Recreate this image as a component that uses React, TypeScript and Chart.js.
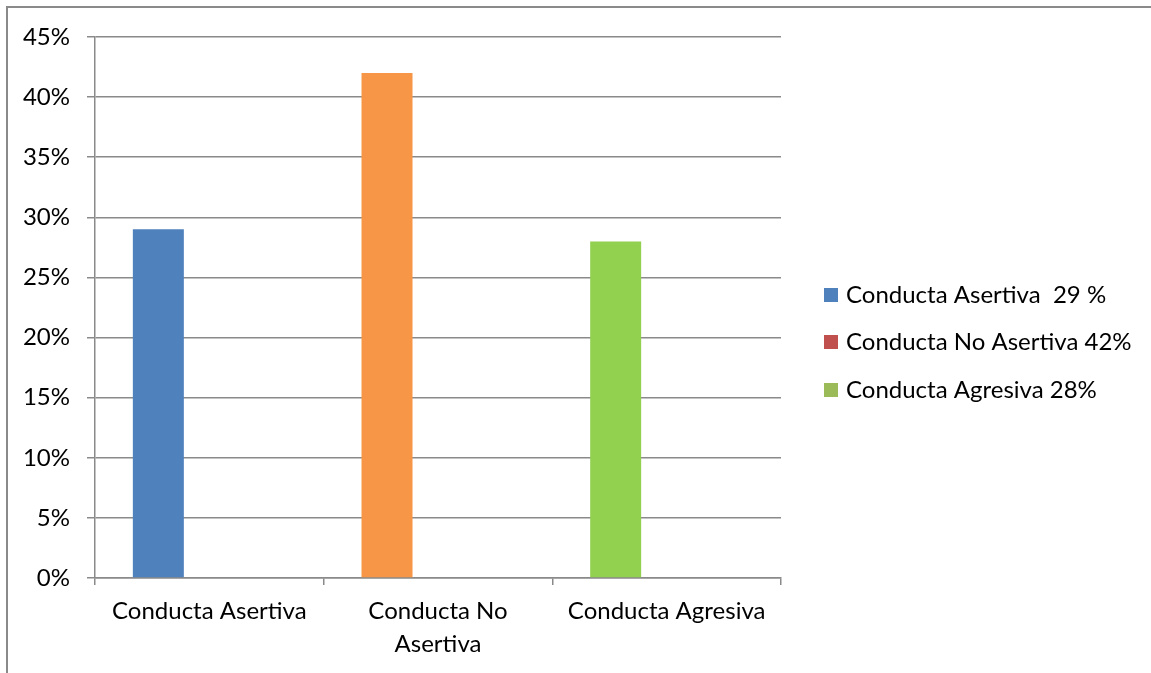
import React, { useEffect, useRef } from "react";
import { Chart, registerables } from "chart.js";

Chart.register(...registerables);

const categories: string[][] = [["Conducta Asertiva"], ["Conducta No", "Asertiva"], ["Conducta Agresiva"]];
const values: number[] = [29, 42, 28];
const barColors: string[] = ["#4F81BD", "#F79646", "#92D050"];
const legendLabels: string[] = ["Conducta Asertiva  29 %", "Conducta No Asertiva 42%", "Conducta Agresiva 28%"];
const legendColors: string[] = ["#4F81BD", "#C0504D", "#9BBB59"];
const yTicks: number[] = [0, 5, 10, 15, 20, 25, 30, 35, 40, 45];

const FONT = "Lato";
const FONT_SIZE = 24;
const GRID = "#8a8a8a";

const legendPlugin = {
  id: "customLegend",
  afterDraw(chart: any) {
    const ctx = chart.ctx as CanvasRenderingContext2D;
    const area = chart.chartArea;
    const baseX = area.right + 43;
    const rowY = [295, 342, 390];
    ctx.save();
    ctx.font = `${FONT_SIZE}px ${FONT}`;
    ctx.textBaseline = "middle";
    ctx.textAlign = "left";
    chart.data.datasets.forEach((ds: any, i: number) => {
      const y = rowY[i];
      ctx.fillStyle = ds.legendColor;
      ctx.fillRect(baseX, y - 7, 14, 14);
      ctx.fillStyle = "#000";
      ctx.fillText(ds.label, baseX + 22, y);
    });
    ctx.restore();
  },
};

export default function App() {
  const ref = useRef<HTMLCanvasElement | null>(null);
  useEffect(() => {
    if (!ref.current) return;
    const datasets = legendLabels.map((label, i) => ({
      label,
      legendColor: legendColors[i],
      data: i === 0 ? values : values.map(() => null),
      backgroundColor: i === 0 ? barColors : legendColors[i],
      borderWidth: 0,
      categoryPercentage: 0.669,
      barPercentage: 1,
    }));
    const chart = new Chart(ref.current, {
      type: "bar",
      data: { labels: categories, datasets: datasets as any },
      options: {
        animation: false,
        responsive: false,
        devicePixelRatio: 1,
        layout: { padding: { top: 37, right: 370, left: 0, bottom: 0 } },
        plugins: { legend: { display: false }, tooltip: { enabled: false } },
        scales: {
          x: {
            offset: true,
            afterFit: (s: any) => {
              s.height = 95;
            },
            grid: {
              offset: true,
              drawOnChartArea: false,
              drawTicks: true,
              tickLength: 7,
              color: GRID,
              lineWidth: 1.5,
            },
            border: { color: GRID, width: 1.5 },
            ticks: {
              color: "#000",
              padding: 10,
              font: { family: FONT, size: FONT_SIZE, lineHeight: 1.375 },
            },
          },
          y: {
            min: 0,
            max: 45,
            afterFit: (s: any) => {
              s.width = 95;
            },
            afterBuildTicks: (s: any) => {
              s.ticks = yTicks.map((v) => ({ value: v }));
            },
            grid: { color: GRID, lineWidth: 1.5, tickLength: 8 },
            border: { color: GRID, width: 1.5 },
            ticks: {
              color: "#000",
              padding: 17,
              font: { family: FONT, size: FONT_SIZE },
              callback: (v: any) => `${v}%`,
            },
          },
        },
      },
      plugins: [legendPlugin],
    });
    return () => chart.destroy();
  }, []);
  return (
    <div style={{ position: "fixed", left: 0, top: 0, width: 1151, height: 673, background: "#fff", overflow: "hidden" }}>
      <div
        style={{
          position: "absolute",
          left: 6,
          top: 6,
          width: 1200,
          height: 700,
          borderTop: "2px solid #8a8a8a",
          borderLeft: "2px solid #8a8a8a",
        }}
      />
      <canvas ref={ref} width={1151} height={673} style={{ position: "absolute", left: 0, top: 0, width: 1151, height: 673 }} />
    </div>
  );
}
